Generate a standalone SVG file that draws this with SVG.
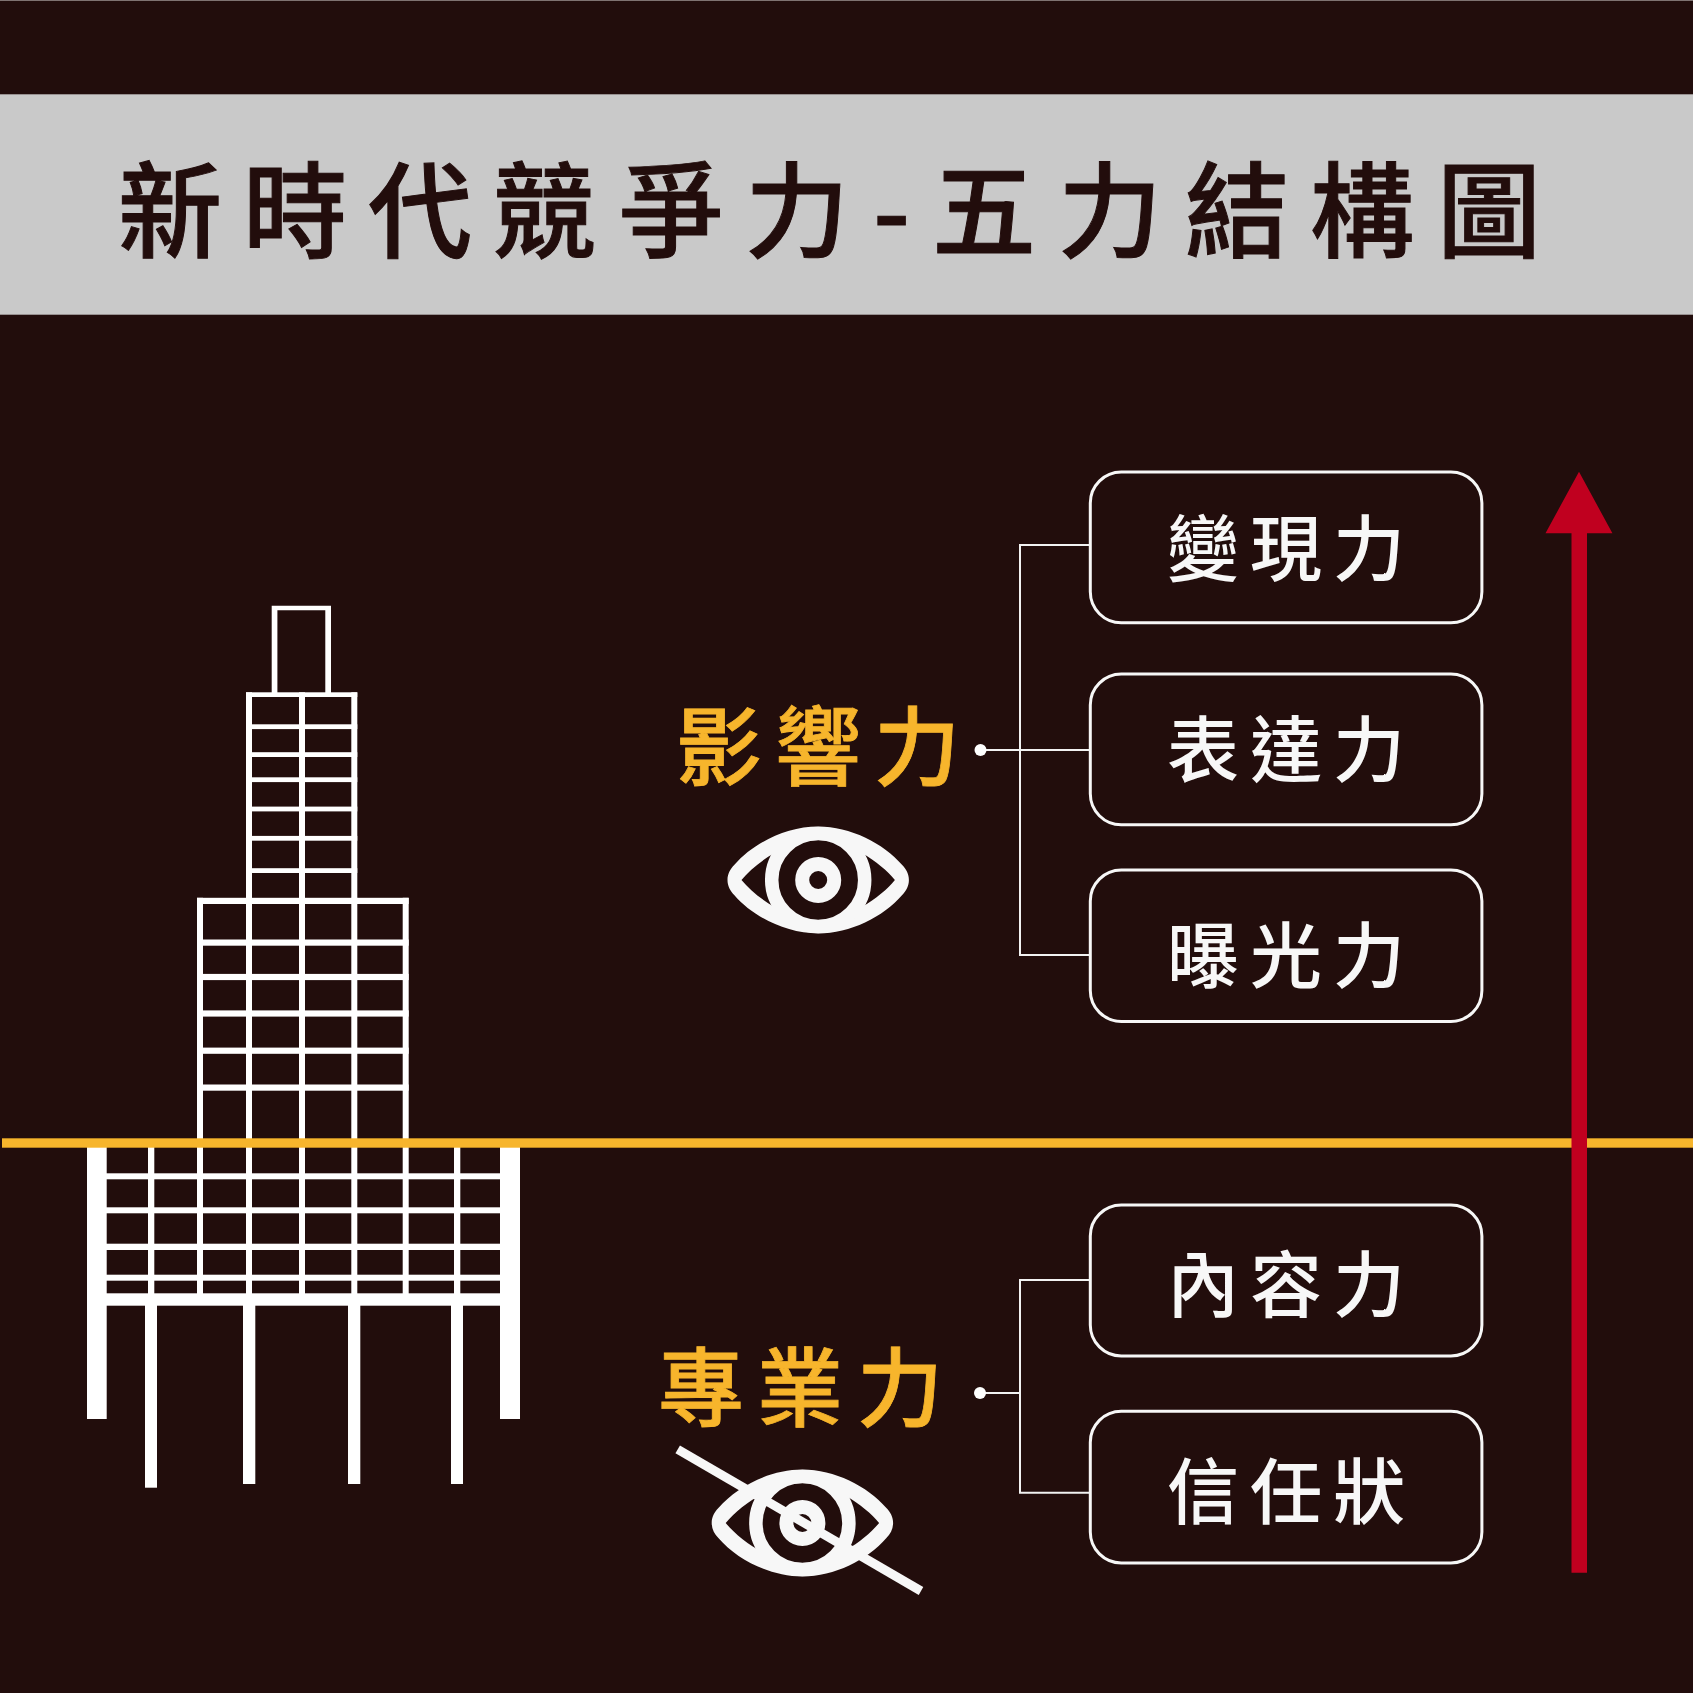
<svg xmlns="http://www.w3.org/2000/svg" width="1693" height="1693" viewBox="0 0 1693 1693">
<style>
.cjk{font-family:"Noto Sans CJK TC","Noto Sans CJK SC",sans-serif}
.title{font-size:104px;font-weight:500;fill:#220D0C;stroke:#220D0C;stroke-width:1}
.gold{font-size:86px;font-weight:500;fill:#F7B52C;stroke:#F7B52C;stroke-width:.8}
.box{fill:none;stroke:#F7F7F7;stroke-width:3}
.boxt{font-size:72px;font-weight:500;fill:#F7F7F7}
.conn{fill:none;stroke:#F2F2F2;stroke-width:2}
.w{fill:#FFFFFF}
</style>
<defs>
<clipPath id="eyeClip"><path d="M-90.7 0C-90.7 -6 -88 -11 -84 -15C-65 -37 -32 -53.5 0 -53.5C32 -53.5 65 -37 84 -15C88 -11 90.7 -6 90.7 0C90.7 6 88 11 84 15C65 37 32 53.5 0 53.5C-32 53.5 -65 37 -84 15C-88 11 -90.7 6 -90.7 0Z"/></clipPath>
<g id="eyeShape">
<path fill="#F7F7F7" fill-rule="evenodd" d="M-90.7 0C-90.7 -6 -88 -11 -84 -15C-65 -37 -32 -53.5 0 -53.5C32 -53.5 65 -37 84 -15C88 -11 90.7 -6 90.7 0C90.7 6 88 11 84 15C65 37 32 53.5 0 53.5C-32 53.5 -65 37 -84 15C-88 11 -90.7 6 -90.7 0ZM-76.7 0C-62 18 -30 40 0 40C30 40 62 18 76.7 0C62 -18 30 -40 0 -40C-30 -40 -62 -18 -76.7 0Z"/>
<circle r="46.5" fill="none" stroke="#F7F7F7" stroke-width="13.5" clip-path="url(#eyeClip)"/>
<circle r="16" fill="none" stroke="#F7F7F7" stroke-width="14"/>
</g>
</defs>
<rect width="1693" height="1693" fill="#220D0C"/>
<rect width="1693" height="1" fill="#7F7372"/>
<g id="title-band">
<rect y="94.3" width="1693" height="220.4" fill="#C9C9C9"/>
<text class="cjk title" y="250" x="118 243 368 492 619 745 873 932 1058 1185 1310 1437">新時代競爭力-五力結構圖</text>
</g>
<g id="tower" class="w">
<!-- spire -->
<path fill-rule="evenodd" d="M271.7 605.8H331V693H271.7ZM277.4 610.3V693H325.3V610.3Z"/>
<!-- upper section -->
<rect x="246" y="692.3" width="111.3" height="4.7"/>
<rect x="246" y="692.3" width="6" height="208"/>
<rect x="299" y="692.3" width="6" height="208"/>
<rect x="351.3" y="692.3" width="6" height="208"/>
<rect x="246" y="724.3" width="111.3" height="4.8"/>
<rect x="246" y="752.2" width="111.3" height="4.8"/>
<rect x="246" y="777.3" width="111.3" height="4.8"/>
<rect x="246" y="806.6" width="111.3" height="4.8"/>
<rect x="246" y="835.9" width="111.3" height="4.8"/>
<rect x="246" y="868.2" width="111.3" height="4.8"/>
<!-- middle section -->
<rect x="197" y="897.8" width="211.7" height="6.2"/>
<rect x="197" y="939.5" width="211.7" height="6.2"/>
<rect x="197" y="973.9" width="211.7" height="6.2"/>
<rect x="197" y="1010.4" width="211.7" height="6.2"/>
<rect x="197" y="1047.6" width="211.7" height="6.2"/>
<rect x="197" y="1084.5" width="211.7" height="6.2"/>
<rect x="197" y="897.8" width="6" height="400"/>
<rect x="246" y="897.8" width="6" height="400"/>
<rect x="299" y="897.8" width="6" height="400"/>
<rect x="351.3" y="897.8" width="6" height="400"/>
<rect x="402.7" y="897.8" width="6" height="400"/>
<!-- base section -->
<rect x="148" y="1140" width="6.3" height="158"/>
<rect x="454" y="1140" width="6.3" height="158"/>
<rect x="87" y="1140" width="19.7" height="279"/>
<rect x="500" y="1140" width="20" height="279"/>
<rect x="106" y="1173.3" width="395" height="6"/>
<rect x="106" y="1207.3" width="395" height="6"/>
<rect x="106" y="1243.7" width="395" height="6.3"/>
<rect x="106" y="1274.7" width="395" height="6"/>
<rect x="106" y="1293.3" width="395" height="12.4"/>
<rect x="145" y="1305" width="12" height="182.7"/>
<rect x="243" y="1305" width="12.3" height="179"/>
<rect x="348" y="1305" width="12.3" height="179"/>
<rect x="451" y="1305" width="12" height="179"/>
</g>
<g id="ground-line"><rect x="2" y="1138.3" width="1691" height="9.4" fill="#F7B52C"/></g>
<g id="growth-arrow">
<path fill="#C0001F" d="M1579 471.7L1612.4 533.3H1587V1572.7H1571.5V533.3H1545.5Z"/>
</g>
<g id="connectors">
<path class="conn" d="M981 750H1090M1089 545H1020V955H1089"/>
<path class="conn" d="M980 1393H1020M1089 1280H1020V1492.7H1089"/>
</g>
<g id="influence">
<text class="cjk gold" y="779" x="676 775 874">影響力</text>
<circle class="w" cx="980.5" cy="750" r="6"/>
<use href="#eyeShape" x="818.2" y="880"/>
</g>
<g id="expertise">
<text class="cjk gold" y="1420" x="658 757 857">專業力</text>
<circle class="w" cx="980" cy="1393" r="6"/>
<use href="#eyeShape" x="802.4" y="1523"/>
<line x1="677.7" y1="1449.3" x2="921" y2="1591" stroke="#F7F7F7" stroke-width="9"/>
</g>
<g id="node-monetize"><rect class="box" x="1090.3" y="472" width="391.6" height="150.8" rx="31"/><text class="cjk boxt" y="575" x="1167 1250 1333">變現力</text></g>
<g id="node-express"><rect class="box" x="1090.3" y="674" width="391.6" height="150.8" rx="31"/><text class="cjk boxt" y="776" x="1167 1250 1333">表達力</text></g>
<g id="node-exposure"><rect class="box" x="1090.3" y="870" width="391.6" height="151.4" rx="31"/><text class="cjk boxt" y="982" x="1167 1250 1333">曝光力</text></g>
<g id="node-content"><rect class="box" x="1090.3" y="1205" width="391.6" height="151" rx="31"/><text class="cjk boxt" y="1311" x="1167 1250 1333">內容力</text></g>
<g id="node-trust"><rect class="box" x="1090.3" y="1411.3" width="391.6" height="151.7" rx="31"/><text class="cjk boxt" y="1518" x="1167 1250 1333">信任狀</text></g>
</svg>
